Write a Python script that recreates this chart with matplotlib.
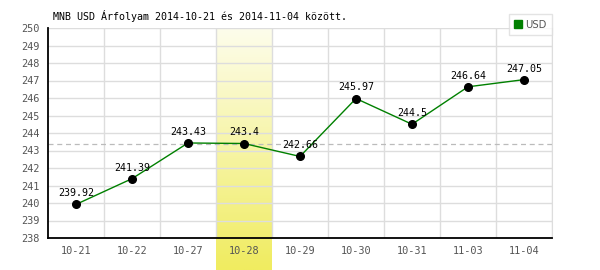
import numpy as np
import matplotlib
matplotlib.use('Agg')
import matplotlib.pyplot as plt
from matplotlib.colors import LinearSegmentedColormap

# --- data ---
dates = ['10-21', '10-22', '10-27', '10-28', '10-29', '10-30', '10-31', '11-03', '11-04']
rates = [239.92, 241.39, 243.43, 243.4, 242.66, 245.97, 244.5, 246.64, 247.05]
value_labels = ['239.92', '241.39', '243.43', '243.4', '242.66', '245.97', '244.5', '246.64', '247.05']
highlight_idx = 3
ref_level = 243.4
y_min, y_max = 238, 250

mono = 'DejaVu Sans Mono'

fig = plt.figure(figsize=(6, 2.7), dpi=100)
ax = fig.add_axes([48/600, 32/270, 504/600, 210/270])

x = np.arange(len(dates))
ax.set_xlim(-0.5, len(dates) - 0.5)
ax.set_ylim(y_min, y_max)

# highlighted day column with yellow gradient (extends under tick label)
grad = LinearSegmentedColormap.from_list('yel', ['#fdfdeb', '#f0ec60'])
ylow = y_min - 32 / 17.5
ax.imshow(np.linspace(0, 1, 100).reshape(-1, 1), cmap=grad, aspect='auto',
          extent=(highlight_idx - 0.5, highlight_idx + 0.5, ylow, y_max),
          origin='upper', clip_on=False, zorder=0)

# grid
for yy in range(y_min, y_max + 1):
    ax.axhline(yy, color='#dddddd', lw=1, zorder=1)
for xx in np.arange(-0.5, len(dates), 1.0)[1:]:
    ax.axvline(xx, color='#dddddd', lw=1, zorder=1)

ax.axhline(ref_level, color='#bbbbbb', lw=0.9, ls=(0, (4, 3)), zorder=2)

ax.plot(x, rates, color='#008000', lw=1, zorder=3)
ax.plot(x, rates, 'o', color='black', ms=5.5, zorder=4)
for xi, yi, lab in zip(x, rates, value_labels):
    ax.text(xi, yi + 0.35, lab, ha='center', va='bottom', fontsize=7.2,
            family=mono, color='black', zorder=5)

ax.set_xticks(x)
ax.set_xticklabels(dates)
ax.set_yticks(range(y_min, y_max + 1))
ax.tick_params(length=0, labelsize=7.4, colors='#555555', pad=6)
for lab in ax.get_xticklabels() + ax.get_yticklabels():
    lab.set_family(mono)

ax.spines['top'].set_visible(False)
ax.spines['right'].set_color('#dddddd')
ax.spines['left'].set_color('black')
ax.spines['bottom'].set_color('black')
ax.spines['left'].set_linewidth(1.3)
ax.spines['bottom'].set_linewidth(1.3)

fig.text(53/600, 1 - 16/270, 'MNB USD Árfolyam 2014-10-21 és 2014-11-04 között.',
         family=mono, fontsize=7.2, va='center', ha='left')

# legend box
leg = ax.legend([plt.Rectangle((0, 0), 1, 1, color='#008000')], ['USD'],
                loc='upper right', bbox_to_anchor=(552/600, 1 - 14/270),
                bbox_transform=fig.transFigure, fontsize=7.2, frameon=True,
                fancybox=False, handlelength=0.8, handleheight=0.8,
                handletextpad=0.3, borderpad=0.55, borderaxespad=0)
leg.get_frame().set_edgecolor('#dddddd')
leg.get_frame().set_linewidth(1)
for t in leg.get_texts():
    t.set_color('#555555')

fig.savefig('out.png', dpi=100)
